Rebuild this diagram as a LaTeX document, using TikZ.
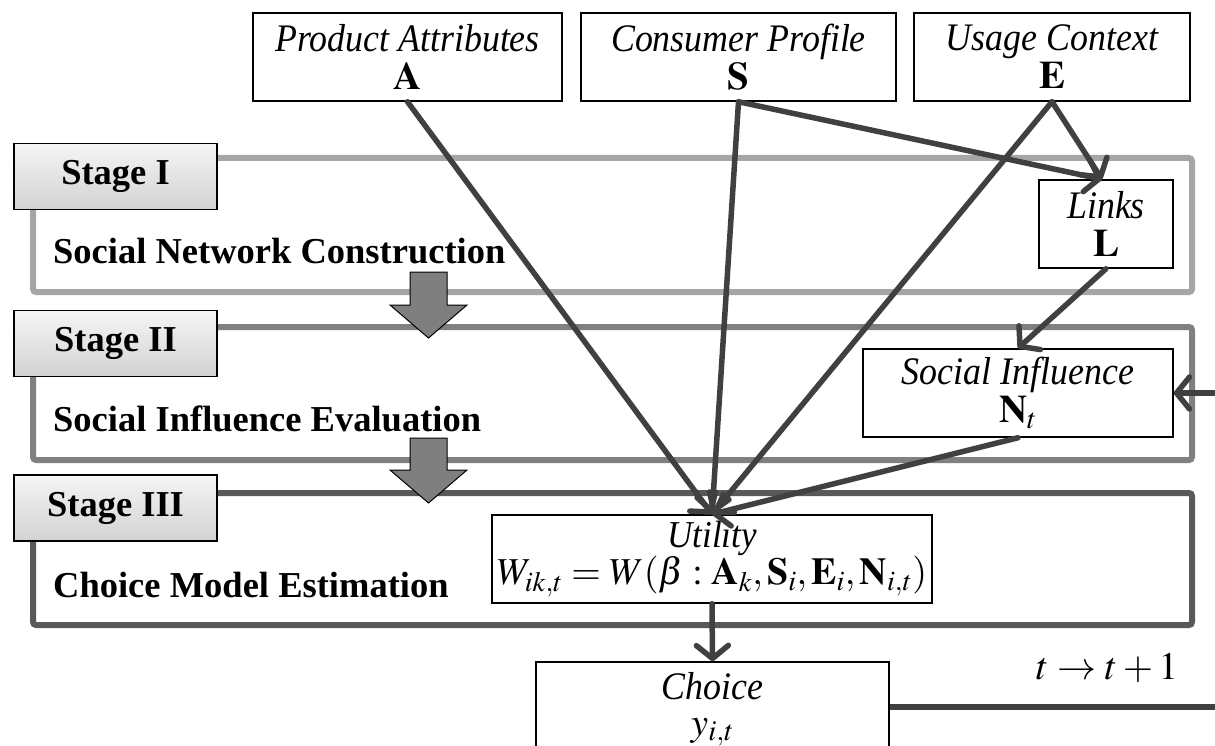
\documentclass[tikz,border=0pt]{standalone}
\usepackage{mathptmx}
\usepackage[no-math]{fontspec}
\setmainfont{Liberation Serif}
\newfontfamily\condit{Liberation Serif Italic}[FakeStretch=0.92]
\usetikzlibrary{arrows.meta}

\definecolor{framea}{HTML}{A6A6A6}
\definecolor{frameb}{HTML}{808080}
\definecolor{framec}{HTML}{595959}
\definecolor{conn}{HTML}{404040}
\definecolor{blockarrow}{HTML}{7F7F7F}

\newcommand{\boxtitle}[1]{{\condit #1}}

\tikzset{
  box/.style={draw=black, line width=1.5pt, fill=white, inner sep=0pt,
    align=center, font=\fontsize{39}{38}\selectfont},
  stagebox/.style={draw=black, line width=1.5pt, top color=gray!8,
    bottom color=gray!35, minimum width=203pt, minimum height=66pt,
    inner sep=0pt, font=\fontsize{36.5}{38}\selectfont\bfseries},
  stagelabel/.style={anchor=west, inner sep=0pt, font=\fontsize{36.5}{38}\selectfont\bfseries},
  frame/.style={line width=6pt, rounded corners=3pt},
  link/.style={draw=conn, line width=5.5pt, line cap=round,
    -{Straight Barb[length=13pt,width=32pt,round]}},
  plainlink/.style={draw=conn, line width=5.5pt},
  blockarr/.style={fill=blockarrow, draw=black, line width=1pt},
}

\begin{document}
\begin{tikzpicture}[x=1pt,y=-1pt]
\useasboundingbox (0,0) rectangle (1215,746);
\clip (0,0) rectangle (1215,746);

% stage frames
\draw[frame, framea] (217,158) -- (1192,158) -- (1192,292) -- (33,292) -- (33,210);
\draw[frame, frameb] (217,327) -- (1192,327) -- (1192,460) -- (33,460) -- (33,375);
\draw[frame, framec] (217,493) -- (1192,493) -- (1192,625) -- (33,625) -- (33,541);

% stage headers
\node[stagebox] (st1) at (115.5,176.5) {Stage I};
\node[stagebox] (st2) at (115.5,343.5) {Stage II};
\node[stagebox] (st3) at (115.5,508) {Stage III};

\node[stagelabel] (lb1) at (53,251) {Social Network Construction};
\node[stagelabel] (lb2) at (53,419) {Social Influence Evaluation};
\node[stagelabel] (lb3) at (53,585) {Choice Model Estimation};

% block arrows between stages
\draw[blockarr] (410,272) -- (447,272) -- (447,305) -- (467,305) -- (428.5,338)
  -- (390,305) -- (410,305) -- cycle;
\draw[blockarr] (410,438) -- (447,438) -- (447,470) -- (467,470) -- (428.5,503)
  -- (390,470) -- (410,470) -- cycle;

% input boxes
\node[box, minimum width=309pt, minimum height=88pt] (A) at (407.5,57)
  {\boxtitle{Product Attributes}\\ $\mathbf{A}$};
\node[box, minimum width=315pt, minimum height=88pt] (S) at (738.5,57)
  {\boxtitle{Consumer Profile}\\ $\mathbf{S}$};
\node[box, minimum width=276pt, minimum height=88pt] (E) at (1052,57)
  {\boxtitle{Usage Context}\\ $\mathbf{E}$};

% inner model boxes
\node[box, minimum width=134pt, minimum height=88pt] (L) at (1106,224)
  {\boxtitle{Links}\\ $\mathbf{L}$};
\node[box, minimum width=310pt, minimum height=88pt] (N) at (1018,393)
  {\boxtitle{Social Influence}\\ $\mathbf{N}_t$};
\node[box, minimum width=440pt, minimum height=88pt,
  font=\fontsize{38}{37}\selectfont] (U) at (712,559)
  {\boxtitle{Utility}\\ $W_{ik,t}=W(\beta:\mathbf{A}_k,\mathbf{S}_i,\mathbf{E}_i,\mathbf{N}_{i,t})$};
% the choice box runs on below the lower edge
\node[box, minimum width=353pt, minimum height=120pt,
  font=\fontsize{39}{36}\selectfont] (C) at (712.5,722)
  {\parbox[c][100pt][t]{340pt}{\centering\boxtitle{Choice}\\ $y_{i,t}$}};

\node[inner sep=0pt, font=\fontsize{39}{38}\selectfont] (step) at (1107,668) {$t\rightarrow t+1$};

% free ends of the feedback loop at the picture edge
\coordinate (loopout) at (1215,707);
\coordinate (loopin) at (1215,393);

% connectors
\draw[link] (A.south) -- (U.north);
\draw[link] (S.south) -- (U.north);
\draw[link] (E.south) -- (U.north);
\draw[link] (S.south) -- ([xshift=-4pt]L.north);
\draw[link] (E.south) -- ([xshift=-4pt]L.north);
\draw[link] (L.south) -- (N.north);
\draw[link] (N.south) -- (U.north);
\draw[link] (U.south) -- (C.north);
\draw[plainlink] (C.east |- loopout) -- (loopout);
\draw[link] (loopin) -- (N.east);
\end{tikzpicture}
\end{document}
